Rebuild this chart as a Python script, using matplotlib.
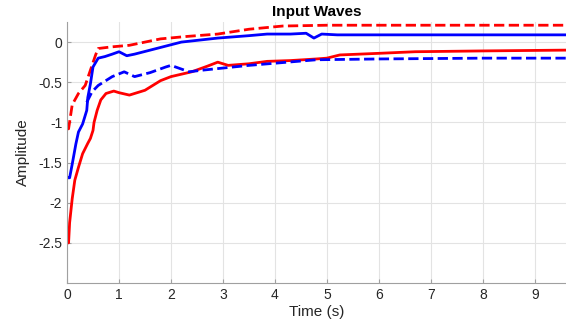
import numpy as np
import matplotlib.pyplot as plt

plt.rcParams['font.family'] = ['Liberation Sans', 'DejaVu Sans']

# red solid
t_rs = [0.0, 0.03, 0.05, 0.1, 0.15, 0.22, 0.3, 0.4, 0.45, 0.5, 0.52, 0.58, 0.65, 0.75,
        0.9, 1.0, 1.2, 1.5, 1.8, 2.0, 2.4, 2.7, 2.9, 3.1, 3.5, 3.85, 4.3, 4.8, 5.0,
        5.25, 6.0, 6.7, 8.0, 9.6]
y_rs = [-2.5, -2.5, -2.25, -1.95, -1.72, -1.56, -1.39, -1.26, -1.2, -1.1, -1.0, -0.85,
        -0.72, -0.64, -0.61, -0.63, -0.66, -0.6, -0.48, -0.43, -0.37, -0.3, -0.25,
        -0.29, -0.27, -0.24, -0.23, -0.21, -0.2, -0.16, -0.14, -0.12, -0.11, -0.1]

# red dashed
t_rd = [0.0, 0.03, 0.1, 0.22, 0.35, 0.45, 0.55, 0.6, 0.85, 1.2, 1.5, 1.8, 2.3, 2.9,
        3.5, 4.15, 5.0, 6.0, 9.6]
y_rd = [-1.08, -1.08, -0.78, -0.64, -0.54, -0.35, -0.16, -0.08, -0.06, -0.04, 0.0,
        0.04, 0.07, 0.1, 0.16, 0.2, 0.21, 0.21, 0.21]

# blue solid
t_bs = [0.02, 0.05, 0.1, 0.17, 0.22, 0.3, 0.38, 0.4, 0.45, 0.5, 0.6, 0.73, 0.87,
        1.0, 1.15, 1.3, 1.6, 1.9, 2.2, 2.9, 3.5, 3.85, 4.3, 4.6, 4.75, 4.9, 5.2,
        6.0, 8.0, 9.6]
y_bs = [-1.69, -1.69, -1.52, -1.27, -1.12, -1.02, -0.85, -0.69, -0.52, -0.31, -0.2,
        -0.18, -0.15, -0.12, -0.17, -0.15, -0.1, -0.05, 0.0, 0.05, 0.08, 0.1, 0.1,
        0.11, 0.05, 0.1, 0.09, 0.09, 0.09, 0.09]

# blue dashed
t_bd = [0.38, 0.48, 0.6, 0.87, 1.1, 1.3, 1.6, 1.9, 2.0, 2.35, 2.6, 2.9, 3.5, 4.8,
        6.0, 8.0, 9.6]
y_bd = [-0.75, -0.62, -0.54, -0.43, -0.37, -0.43, -0.38, -0.31, -0.29, -0.37, -0.35,
        -0.33, -0.29, -0.22, -0.21, -0.2, -0.2]

fig = plt.figure(figsize=(5.66, 3.31), dpi=100)
ax = fig.add_axes([0.1184, 0.145, 0.8816, 0.7885])

ax.plot(t_rs, y_rs, color='red', lw=2)
ax.plot(t_rd, y_rd, color='red', lw=2, ls='--')
ax.plot(t_bs, y_bs, color='blue', lw=2)
ax.plot(t_bd, y_bd, color='blue', lw=2, ls='--')

ax.set_xlim(0, 9.6)
ax.set_ylim(-3, 0.25)
ax.set_xticks(range(0, 10))
ax.set_yticks([-2.5, -2, -1.5, -1, -0.5, 0])
ax.set_yticklabels(['-2.5', '-2', '-1.5', '-1', '-0.5', '0'])
ax.grid(True, color='#e3e3e3', lw=0.8)
ax.set_axisbelow(True)
for s in ['top', 'right']:
    ax.spines[s].set_visible(False)
for s in ['left', 'bottom']:
    ax.spines[s].set_color('#a0a0a0')
ax.tick_params(direction='in', length=3, color='#a0a0a0', labelsize=10, labelcolor='#262626')

ax.set_title('Input Waves', fontsize=11, fontweight='bold', pad=4)
ax.set_xlabel('Time (s)', fontsize=11, color='#262626', labelpad=2)
ax.set_ylabel('Amplitude', fontsize=11, color='#262626', labelpad=6)

fig.savefig('out.png', dpi=100)
